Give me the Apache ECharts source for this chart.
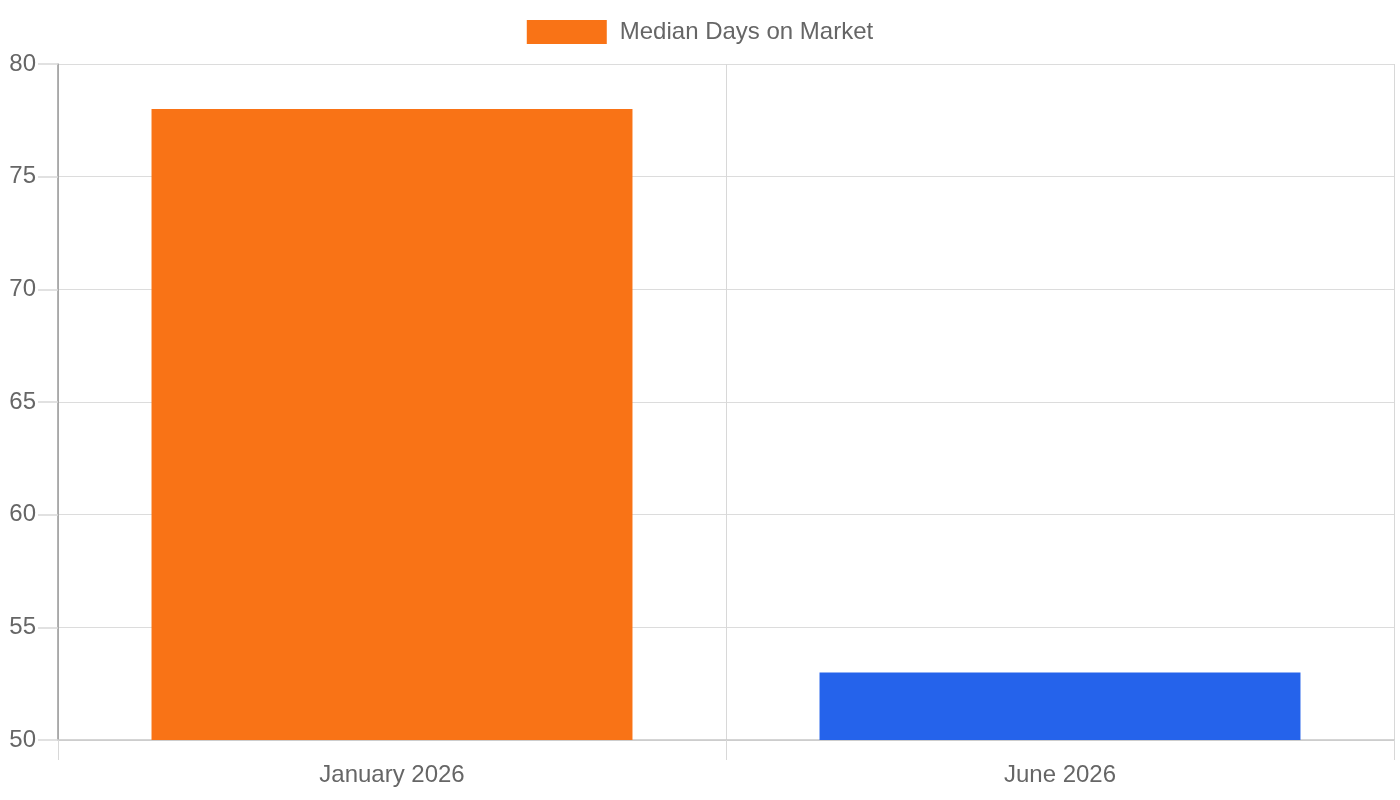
<!DOCTYPE html>
<html>
<head>
<meta charset="utf-8">
<script src="https://cdn.jsdelivr.net/npm/echarts@6/dist/echarts.min.js"></script>
<style>
  html, body { margin: 0; padding: 0; background: #fff; }
  #chart { width: 1400px; height: 800px; }
</style>
</head>
<body>
<div id="chart"></div>
<script>
// chart data
var categories = ['January 2026', 'June 2026'];
var medianDays = [78, 53];
var barColors = ['#F97316', '#2563EB'];
var seriesName = 'Median Days on Market';

var chart = echarts.init(document.getElementById('chart'));

var option = {
  backgroundColor: '#fff',
  textStyle: { fontFamily: 'Liberation Sans, Arial, sans-serif' },
  animation: false,
  legend: {
    top: 15,
    left: 'center',
    itemWidth: 80,
    itemHeight: 24,
    icon: 'rect',
    textStyle: { color: '#666', fontSize: 24, padding: [0, 0, 0, 8] },
    data: [seriesName]
  },
  grid: { left: 58, right: 6, top: 64, bottom: 60 },
  xAxis: {
    type: 'category',
    data: categories,
    axisLine: { lineStyle: { color: '#c8c8c8', width: 1.5 } },
    axisTick: { show: true, length: 20, lineStyle: { color: '#d8d8d8' } },
    splitLine: { show: true, lineStyle: { color: '#d8d8d8' } },
    axisLabel: { color: '#666', fontSize: 24, margin: 23 }
  },
  yAxis: {
    type: 'value',
    min: 50,
    max: 80,
    interval: 5,
    axisLine: { show: true, lineStyle: { color: '#999', width: 1.5 } },
    axisTick: { show: true, length: 20, lineStyle: { color: '#d8d8d8', width: 1.5 } },
    splitLine: { show: true, lineStyle: { color: '#dcdcdc', width: 1.2 } },
    axisLabel: { color: '#666', fontSize: 24, margin: 22 }
  },
  series: [{
    name: seriesName,
    type: 'bar',
    barWidth: '72%',
    itemStyle: { color: barColors[0] },
    data: medianDays.map(function (v, i) {
      return { value: v, itemStyle: { color: barColors[i] } };
    })
  }]
};

chart.setOption(option);
</script>
</body>
</html>
